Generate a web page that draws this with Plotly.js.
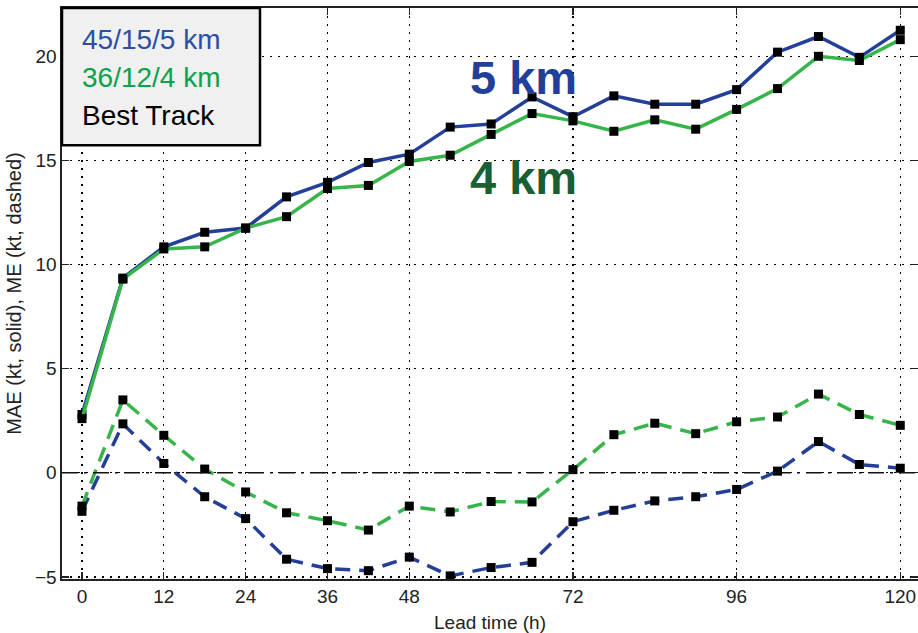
<!DOCTYPE html>
<html>
<head>
<meta charset="utf-8">
<script src="https://cdn.plot.ly/plotly-3.0.1.min.js"></script>
<style>
html,body{margin:0;padding:0;background:#fff;}
#chart{width:918px;height:633px;}
</style>
</head>
<body>
<div id="chart"></div>
<script>
// Lead times (h)
const leadTime = [0,6,12,18,24,30,36,42,48,54,60,66,72,78,84,90,96,102,108,114,120];
// MAE (solid)
const mae5km = [2.8,9.35,10.85,11.55,11.75,13.25,13.95,14.9,15.3,16.6,16.75,18.05,17.1,18.1,17.7,17.7,18.4,20.2,20.95,19.95,21.25];
const mae4km = [2.6,9.3,10.75,10.85,11.75,12.3,13.65,13.8,14.95,15.25,16.25,17.25,16.9,16.4,16.95,16.5,17.45,18.45,20.0,19.8,20.8];
// ME (dashed)
const me5km = [-1.85,2.35,0.45,-1.15,-2.2,-4.15,-4.6,-4.7,-4.05,-4.95,-4.55,-4.3,-2.35,-1.8,-1.35,-1.15,-0.8,0.08,1.5,0.4,0.22];
const me4km = [-1.6,3.5,1.8,0.18,-0.92,-1.92,-2.3,-2.75,-1.6,-1.88,-1.38,-1.4,0.15,1.83,2.38,1.88,2.45,2.68,3.78,2.8,2.28];
const xTicks = [0,12,24,36,48,72,96,120];
const yTicks = [-5,0,5,10,15,20];
const legendLabels = ['45/15/5 km','36/12/4 km','Best Track'];
const legendColors = ['#2c4ea6','#0aa24a','#000000'];

const blue = '#243f98';
const green = '#38b54a';
const mk = {symbol:'square', size:9, color:'#000'};

const traces = [
  {x:leadTime, y:mae5km, mode:'lines+markers', line:{color:blue, width:3.5}, marker:mk, name:'5 km MAE'},
  {x:leadTime, y:mae4km, mode:'lines+markers', line:{color:green, width:3.5}, marker:mk, name:'4 km MAE'},
  {x:leadTime, y:me5km, mode:'lines+markers', line:{color:blue, width:3.5, dash:'15px,9px'}, marker:mk, name:'5 km ME'},
  {x:leadTime, y:me4km, mode:'lines+markers', line:{color:green, width:3.5, dash:'15px,9px'}, marker:mk, name:'4 km ME'}
];

const font = {family:'Liberation Sans, Arial, sans-serif', color:'#222'};

const annotations = [];
const legY = [0.945, 0.879, 0.812];
legendLabels.forEach((t,i)=>{
  annotations.push({xref:'paper', yref:'paper', x:0.021, y:legY[i], xanchor:'left', yanchor:'middle',
    text:t, showarrow:false, font:{family:font.family, size:28, color:legendColors[i]}});
});
annotations.push({xref:'x', yref:'y', x:56.6, y:19.0, xanchor:'left', yanchor:'middle', text:'<b>5 km</b>',
  showarrow:false, font:{family:font.family, size:47, color:'#223f99'}});
annotations.push({xref:'x', yref:'y', x:56.6, y:14.2, xanchor:'left', yanchor:'middle', text:'<b>4 km</b>',
  showarrow:false, font:{family:font.family, size:47, color:'#1a5f33'}});

const layout = {
  width:918, height:633,
  margin:{l:62, r:0, t:8, b:54},
  paper_bgcolor:'#fff', plot_bgcolor:'#fff',
  showlegend:false,
  font:font,
  xaxis:{
    range:[-2.93,122.6], tickvals:xTicks, ticktext:xTicks.map(String),
    showgrid:true, gridcolor:'#000', gridwidth:1.3, griddash:'2px,6px',
    zeroline:false, showline:true, linecolor:'#222', linewidth:1.6, mirror:'ticks',
    ticks:'inside', ticklen:7, tickcolor:'#222', tickwidth:1.2,
    tickfont:{size:19, color:'#222'},
    title:{text:'Lead time (h)', font:{size:19, color:'#222'}, standoff:9}
  },
  yaxis:{
    range:[-5.1,22.32], tickvals:yTicks, ticktext:yTicks.map(v=> v<0 ? '\u2212'+Math.abs(v) : String(v)),
    showgrid:true, gridcolor:'#000', gridwidth:1.3, griddash:'2px,6px',
    zeroline:false, showline:true, linecolor:'#222', linewidth:1.6, mirror:'ticks',
    ticks:'inside', ticklen:7, tickcolor:'#222', tickwidth:1.2,
    tickfont:{size:19, color:'#222'},
    title:{text:'MAE (kt, solid), ME (kt, dashed)', font:{size:20, color:'#222'}, standoff:8}
  },
  shapes:[
    {type:'line', xref:'paper', yref:'y', x0:0, x1:1, y0:0, y1:0, line:{color:'#111', width:1.5, dash:'16px,6px,3px,6px'}, layer:'above'},
    {type:'rect', xref:'paper', yref:'paper', x0:0, x1:0.2313, y0:0.7595, y1:1, fillcolor:'#f0f0f0', line:{color:'#000', width:2.5}, layer:'above'}
  ],
  annotations:annotations
};

Plotly.newPlot('chart', traces, layout, {displayModeBar:false, staticPlot:true});
</script>
</body>
</html>
